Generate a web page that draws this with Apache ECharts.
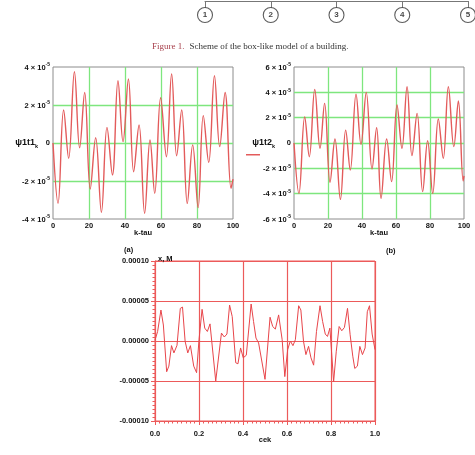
<!DOCTYPE html>
<html><head><meta charset="utf-8">
<script src="https://cdn.jsdelivr.net/npm/echarts@6/dist/echarts.min.js"></script>
<style>html,body{margin:0;padding:0;background:#fff}#c{width:475px;height:455px}</style>
</head><body><div id="c"></div>
<script>
// Scheme nodes
const nodes = ['1', '2', '3', '4', '5'];
// (a) psi1t1 extrema, values in units of 1e-5
const aK = [0, 2.8, 5.9, 8.7, 11.9, 14.8, 17.6, 20.7, 23.7, 26.9, 30, 33, 36.1, 38.9, 41.9, 44.8, 47.8, 50.9, 53.9, 56.5, 59.8, 63, 65.9, 68.7, 71.5, 74.6, 77.6, 80.6, 83.5, 86.5, 89.7, 92.6, 95.6, 98.9, 100];
const aV = [0, -3.18, 1.74, -0.81, 3.75, -0.25, 2.66, -2.42, 0.28, -3.65, 0.82, -1.68, 3.28, 0.07, 3.37, -1.51, 0.95, -3.7, 0.16, -2.65, 2.38, -0.72, 3.63, -0.67, 1.74, -3.18, -0.1, -3.4, 1.44, -1.02, 3.54, -0.19, 2.66, -2.39, -1.9];
// (b) psi1t2 extrema, units of 1e-5
const bK = [0, 2.9, 6.3, 9.0, 12.2, 15.3, 18, 21.2, 24.1, 27.3, 30.4, 33.1, 36.5, 39.4, 42.5, 45.9, 48.6, 51.2, 54.5, 57.4, 60.6, 63.5, 66.5, 69.4, 72.4, 75.7, 78.6, 81.6, 84.9, 87.8, 90.8, 94, 96.7, 99.5, 100];
const bV = [0, -3.98, 2.05, -1.08, 4.23, -0.42, 3.13, -3.1, 0.31, -4.45, 1.02, -2.13, 3.86, -0.1, 4.0, -2.05, 1.2, -4.37, 0.31, -3.05, 3.0, -0.42, 4.44, -1.0, 2.34, -3.84, 0.18, -3.98, 1.9, -1.21, 4.44, -0.29, 3.31, -3.0, -2.6];
// (c) x, M vs time (cek), values in units of 1e-5
const cT = [0, 0.012, 0.027, 0.038, 0.053, 0.063, 0.075, 0.086, 0.1, 0.115, 0.125, 0.137, 0.149, 0.161, 0.176, 0.189, 0.2, 0.214, 0.226, 0.238, 0.25, 0.276, 0.302, 0.315, 0.327, 0.339, 0.351, 0.367, 0.377, 0.389, 0.401, 0.415, 0.437, 0.448, 0.459, 0.471, 0.5, 0.523, 0.535, 0.547, 0.562, 0.578, 0.59, 0.603, 0.615, 0.627, 0.638, 0.653, 0.663, 0.675, 0.686, 0.698, 0.709, 0.721, 0.734, 0.75, 0.762, 0.774, 0.784, 0.795, 0.812, 0.824, 0.837, 0.849, 0.861, 0.875, 0.887, 0.899, 0.908, 0.92, 0.931, 0.943, 0.955, 0.965, 0.975, 0.987, 1.0];
const cV = [0.1, 1.2, 3.87, 2.0, -3.84, -3.14, -0.58, -1.49, -0.54, 4.08, 4.24, -0.05, -1.49, -0.58, -3.14, -3.96, 0.16, 3.96, 1.61, 1.19, 2.14, -5.0, 0.99, 0.5, 0.87, 4.49, 3.05, -2.72, -2.85, -0.87, -2.1, -1.78, 4.62, 2.43, 0.37, -0.25, -4.79, 2.97, 1.81, 1.49, 3.26, 0.16, -4.45, -1.08, 0, -0.58, 0.16, 4.41, 3.87, -0.05, -1.7, -0.67, -2.1, -3.02, 1.19, 4.41, 2.43, 0.87, 0.57, 1.61, -5.07, -1.28, 1.81, 1.28, 1.69, 4.08, 0.78, -1.9, -3.43, -3.14, -0.67, -1.7, -0.87, 3.66, 4.41, 0.87, -1.08];

const FONT = 'Liberation Sans';
const GREEN = '#7ee67e';
const GRAYB = '#8c8c8c';
const REDG = '#ec5a5a';
const pair = (xs, ys) => xs.map((x, i) => [x, ys[i]]);

const supLabel = {
  fontFamily: FONT, color: '#111', margin: 3,
  formatter: v => v === 0 ? '{m|0}' : '{m|' + Math.round(v) + ' × 10}{s|-5}',
  rich: {
    m: { fontSize: 7.5, fontWeight: 'bold', fontFamily: FONT, color: '#111', verticalAlign: 'bottom' },
    s: { fontSize: 5, fontWeight: 'bold', fontFamily: FONT, color: '#111', verticalAlign: 'top', padding: [0, 0, 4, 0] }
  }
};
const nameRich = {
  n: { fontSize: 9, fontWeight: 'bold', fontFamily: FONT, color: '#111', verticalAlign: 'bottom' },
  k: { fontSize: 5.5, fontWeight: 'bold', fontFamily: FONT, color: '#111', verticalAlign: 'bottom', padding: [0, 0, -2, 0] }
};
const greenSplit = { show: true, showMinLine: false, showMaxLine: false, lineStyle: { color: GREEN, width: 1.3 } };
const xLab = { fontFamily: FONT, fontWeight: 'bold', fontSize: 7.5, color: '#111', margin: 3 };
const bold75 = { fontFamily: FONT, fontWeight: 'bold', fontSize: 7.5, color: '#111' };
const noBounds = { outerBoundsMode: 'none', containLabel: false };

const chart = echarts.init(document.getElementById('c'), null, { renderer: 'canvas' });
chart.setOption({
  animation: false,
  backgroundColor: '#fff',
  title: [
    { text: '{r|Figure 1.} {k|Scheme of the box-like model of a building.}', left: 147, top: 33,
      textStyle: { fontWeight: 'normal', rich: {
        r: { fontFamily: 'Liberation Serif', fontSize: 9, fontWeight: 'normal', color: '#a8404c' },
        k: { fontFamily: 'Liberation Serif', fontSize: 9, fontWeight: 'normal', color: '#333' } } } },
    { text: '(a)', left: 119, top: 241, textStyle: bold75 },
    { text: '(b)', left: 381, top: 242, textStyle: bold75 },
    { text: '(c)', left: 261, top: 449, textStyle: bold75 }
  ],
  legend: {
    left: 246, top: 154, padding: 0, itemWidth: 14, itemHeight: 1.5, icon: 'rect',
    data: ['ψ1t2'], formatter: () => '', selectedMode: false
  },
  grid: [
    Object.assign({ left: 53, top: 67, width: 180, height: 152, show: true, borderColor: GRAYB, borderWidth: 1, backgroundColor: 'transparent' }, noBounds),
    Object.assign({ left: 294, top: 67, width: 170, height: 152, show: true, borderColor: GRAYB, borderWidth: 1, backgroundColor: 'transparent' }, noBounds),
    Object.assign({ left: 155, top: 261, width: 220, height: 160, show: true, borderColor: REDG, borderWidth: 1, backgroundColor: 'transparent' }, noBounds),
    Object.assign({ left: 205, top: 1, width: 263, height: 14 }, noBounds)
  ],
  xAxis: [
    { gridIndex: 0, type: 'value', min: 0, max: 100, interval: 20, name: 'k-tau', nameLocation: 'middle', nameGap: 10, nameMoveOverlap: false,
      nameTextStyle: bold75,
      axisLine: { show: false, onZero: false }, axisTick: { show: false }, axisLabel: xLab, splitLine: greenSplit },
    { gridIndex: 1, type: 'value', min: 0, max: 100, interval: 20, name: 'k-tau', nameLocation: 'middle', nameGap: 10, nameMoveOverlap: false,
      nameTextStyle: bold75,
      axisLine: { show: false, onZero: false }, axisTick: { show: false }, axisLabel: xLab, splitLine: greenSplit },
    { gridIndex: 2, type: 'value', min: 0, max: 1, interval: 0.2, name: 'cek', nameLocation: 'middle', nameGap: 15, nameMoveOverlap: false,
      nameTextStyle: bold75,
      axisLine: { show: true, onZero: false, lineStyle: { color: REDG } },
      axisTick: { show: true, length: 4, lineStyle: { color: REDG } },
      minorTick: { show: true, splitNumber: 10, length: 2.5, lineStyle: { color: REDG } },
      axisLabel: Object.assign({ margin: 9, formatter: v => v.toFixed(1) }, bold75),
      splitLine: { show: true, lineStyle: { color: REDG, width: 1.2 } } },
    { gridIndex: 3, type: 'category', data: nodes, boundaryGap: false, position: 'top',
      axisLine: { show: true, onZero: false, lineStyle: { color: '#777', width: 1 } },
      axisTick: { show: true, inside: true, length: 7, alignWithLabel: true, lineStyle: { color: '#777' } },
      axisLabel: { show: false }, splitLine: { show: false } }
  ],
  yAxis: [
    { gridIndex: 0, type: 'value', min: -4, max: 4, interval: 2,
      name: '{n|ψ1t1}{k|k}', nameLocation: 'middle', nameRotate: 0, nameGap: 15, nameMoveOverlap: false,
      nameTextStyle: { rich: nameRich },
      axisLine: { show: false, onZero: false }, axisTick: { show: false }, axisLabel: supLabel, splitLine: greenSplit },
    { gridIndex: 1, type: 'value', min: -6, max: 6, interval: 2,
      name: '{n|ψ1t2}{k|k}', nameLocation: 'middle', nameRotate: 0, nameGap: 19, nameMoveOverlap: false,
      nameTextStyle: { rich: nameRich },
      axisLine: { show: false, onZero: false }, axisTick: { show: false }, axisLabel: supLabel, splitLine: greenSplit },
    { gridIndex: 2, type: 'value', min: -10, max: 10, interval: 5,
      name: 'x, M', nameLocation: 'end', nameGap: 0, nameMoveOverlap: false,
      nameTextStyle: Object.assign({ align: 'left', verticalAlign: 'bottom', padding: [0, 0, -2, 3] }, bold75),
      axisLine: { show: true, onZero: false, lineStyle: { color: REDG } },
      axisTick: { show: true, length: 4, lineStyle: { color: REDG } },
      minorTick: { show: true, splitNumber: 10, length: 2.5, lineStyle: { color: REDG } },
      axisLabel: Object.assign({ margin: 6, formatter: v => (v * 1e-5).toFixed(5) }, bold75),
      splitLine: { show: true, lineStyle: { color: REDG, width: 1.2 } } },
    { gridIndex: 3, type: 'value', min: 0, max: 1, show: false }
  ],
  series: [
    { name: 'ψ1t1', type: 'line', xAxisIndex: 0, yAxisIndex: 0, data: pair(aK, aV), smooth: 0.4,
      showSymbol: false, lineStyle: { color: '#e35b5b', width: 1.4 }, itemStyle: { color: '#e35b5b' } },
    { name: 'ψ1t2', type: 'line', xAxisIndex: 1, yAxisIndex: 1, data: pair(bK, bV), smooth: 0.4,
      showSymbol: false, lineStyle: { color: '#e35b5b', width: 1.4 }, itemStyle: { color: '#e35b5b' } },
    { name: 'x', type: 'line', xAxisIndex: 2, yAxisIndex: 2, data: pair(cT, cV),
      showSymbol: false, lineStyle: { color: '#e8454a', width: 1 }, itemStyle: { color: '#e8454a' } },
    { name: 'nodes', type: 'scatter', xAxisIndex: 3, yAxisIndex: 3, data: nodes.map(() => 0),
      symbol: 'circle', symbolSize: 15,
      itemStyle: { color: '#fff', borderColor: '#333', borderWidth: 1.1 },
      label: { show: true, position: 'inside', formatter: p => p.name, fontFamily: FONT, fontWeight: 'bold', fontSize: 8, color: '#111' } }
  ]
});
</script>
</body></html>
